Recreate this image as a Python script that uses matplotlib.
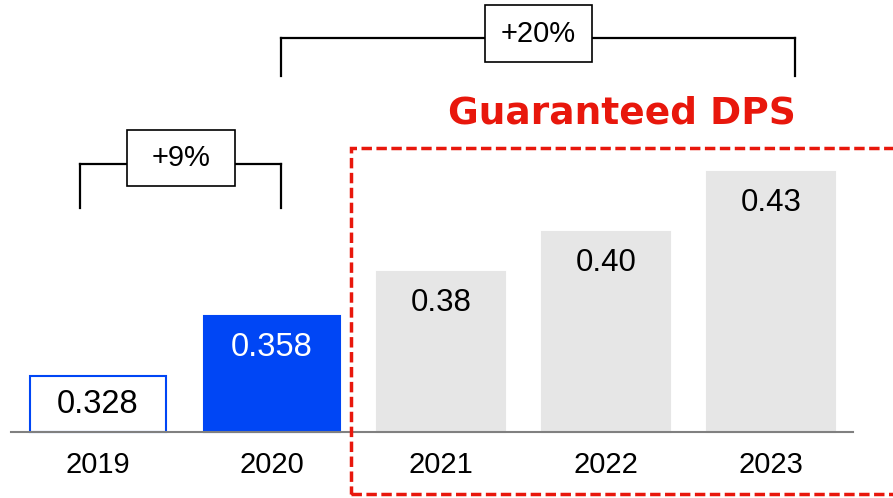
import matplotlib
matplotlib.use("Agg")
import matplotlib.pyplot as plt
from matplotlib.patches import Rectangle
from matplotlib.lines import Line2D

# data
years = ["2019", "2020", "2021", "2022", "2023"]
dps = [0.328, 0.358, 0.38, 0.40, 0.43]
dps_labels = ["0.328", "0.358", "0.38", "0.40", "0.43"]

# layout (bars are not evenly spaced in the original slide)
xpos = [0, 1, 1.971, 2.920, 3.868]
widths = [0.782, 0.782, 0.736, 0.736, 0.736]
faces = ["white", "#0046F5", "#E6E6E6", "#E6E6E6", "#E6E6E6"]
edges = ["#0046F5", "#0046F5", "#E6E6E6", "#E6E6E6", "#E6E6E6"]
txt_colors = ["black", "white", "black", "black", "black"]
val_sizes = [23.5, 23.5, 22.5, 22.5, 22.5]

W, H = 893, 498
fig = plt.figure(figsize=(W / 100, H / 100), dpi=100)
ax = fig.add_axes([0, 0, 1, 1])
base = 0.30
ax.set_xlim(-98 / 174, (W - 98) / 174)
ax.set_ylim(base - 66 / 2000, base + 432 / 2000)
ax.axis("off")

font = ["Liberation Sans", "DejaVu Sans"]

bars = ax.bar(xpos, [v - base for v in dps], bottom=base, width=widths,
              color=faces, edgecolor=edges, linewidth=1.5, zorder=2)

ax.plot([-87 / 174, (853 - 98) / 174], [base, base], color="#808080", lw=1.5, zorder=3)

for i, b in enumerate(bars):
    top = dps[i]
    if i == 0:
        ty = (top + base) / 2
    else:
        ty = top - 31 / 2000
    ax.text(xpos[i], ty, dps_labels[i], ha="center", va="center",
            fontsize=val_sizes[i], color=txt_colors[i], family=font, zorder=4)
    ax.text(xpos[i], base - 33 / 2000, years[i], ha="center", va="center",
            fontsize=21, color="black", family=font)


def px(x, y):
    return x / W, 1 - y / H


def bracket(x0, x1, yh, yb, box, label):
    for xs, ys in [((x0, x0), (yb, yh)), ((x0, x1), (yh, yh)), ((x1, x1), (yh, yb))]:
        pts = [px(a, b) for a, b in zip(xs, ys)]
        fig.add_artist(Line2D([p[0] for p in pts], [p[1] for p in pts],
                              color="black", lw=1.6, transform=fig.transFigure))
    bx0, by0, bx1, by1 = box
    fx, fy = px(bx0, by1)
    fig.add_artist(Rectangle((fx, fy), (bx1 - bx0) / W, (by1 - by0) / H,
                             facecolor="white", edgecolor="black", lw=1.2,
                             transform=fig.transFigure, zorder=5))
    cx, cy = px((bx0 + bx1) / 2, (by0 + by1) / 2)
    fig.text(cx, cy, label, ha="center", va="center", fontsize=21,
             family=font, zorder=6)


bracket(80, 281, 164, 208, (127, 130, 235, 186), "+9%")
bracket(281, 795, 38, 76, (485, 5, 592, 62), "+20%")

# guaranteed region
rx, ry = px(351, 494)
fig.add_artist(Rectangle((rx, ry), (905 - 351) / W, (494 - 148) / H,
                         fill=False, edgecolor="#E8170C", lw=2.5,
                         linestyle=(0, (3.0, 1.3)), transform=fig.transFigure))
gx, gy = px(622, 114)
fig.text(gx, gy, "Guaranteed DPS", ha="center", va="center", fontsize=27,
         fontweight="bold", color="#E8170C", family=["DejaVu Sans"])

fig.savefig("out.png", dpi=100)
